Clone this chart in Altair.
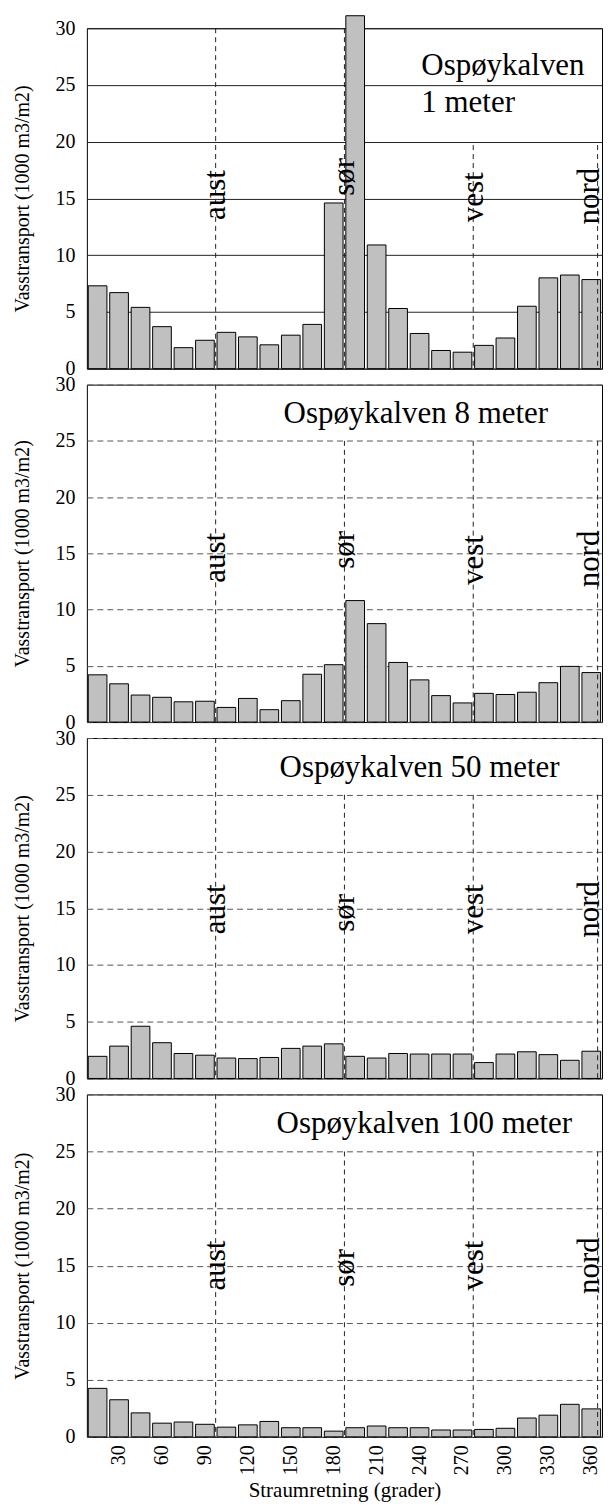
import altair as alt
import pandas as pd

FONT = "Liberation Serif"

# direction bins (upper limit of each 15-degree sector)
bins = ["15", "30", "45", "60", "75", "90", "105", "120", "135", "150", "165", "180",
        "195", "210", "225", "240", "255", "270", "285", "300", "315", "330", "345", "360"]

# water transport (1000 m3/m2) per sector, by depth
v_1m = [7.3, 6.7, 5.4, 3.7, 1.85, 2.5, 3.2, 2.8, 2.1, 2.95, 3.9, 14.6,
        31.1, 10.9, 5.3, 3.1, 1.6, 1.45, 2.05, 2.7, 5.5, 8.0, 8.25, 7.85]
v_8m = [4.2, 3.4, 2.4, 2.2, 1.8, 1.85, 1.3, 2.1, 1.1, 1.9, 4.25, 5.1,
        10.8, 8.75, 5.3, 3.75, 2.35, 1.7, 2.55, 2.45, 2.65, 3.5, 4.95, 4.4]
v_50m = [1.95, 2.85, 4.6, 3.15, 2.2, 2.05, 1.8, 1.75, 1.85, 2.65, 2.85, 3.05,
         1.95, 1.8, 2.2, 2.15, 2.15, 2.15, 1.4, 2.15, 2.35, 2.1, 1.6, 2.4]
v_100m = [4.25, 3.25, 2.1, 1.2, 1.3, 1.1, 0.85, 1.05, 1.35, 0.8, 0.8, 0.5,
          0.8, 0.95, 0.8, 0.8, 0.6, 0.6, 0.65, 0.75, 1.65, 1.9, 2.85, 2.45]

# compass directions marked with dashed lines
dir_names = ["aust", "sør", "vest", "nord"]
dir_at = ["90", "180", "270", "360"]

line_tops = [[30, 30, 19.7, 19.7], [30, 25, 25, 25], [30, 25, 25, 25], [30, 25, 25, 25]]
label_ys = [[15.3, 16.9, 15.1, 15.2], [14.6, 15.3, 14.4, 14.5],
            [14.9, 14.6, 14.9, 14.9], [15.0, 14.8, 15.0, 15.0]]

titles = [["Ospøykalven", "1 meter"], ["Ospøykalven 8 meter"],
          ["Ospøykalven 50 meter"], ["Ospøykalven 100 meter"]]
title_ys = [[25.9, 22.6], [26.6], [26.6], [26.6]]
title_x = [335, 197, 193, 190]

values = [v_1m, v_8m, v_50m, v_100m]
heights = [341, 338, 341, 343]
y_ticks = [0, 5, 10, 15, 20, 25, 30]


def panel(i):
    last = i == 3
    df = pd.DataFrame({"dir": bins, "v": values[i]})
    xscale = alt.Scale(domain=bins, paddingInner=0.13, paddingOuter=0.065)
    yscale = alt.Scale(domain=[0, 30], nice=False)

    if last:
        xaxis = alt.Axis(
            title="Straumretning (grader)", labelAngle=270,
            labelExpr="toNumber(datum.value) % 30 == 0 ? datum.label : ''",
            ticks=False, labelPadding=8, labelFontSize=20, titleFontSize=21,
            titlePadding=5, grid=False, domain=False, labelOverlap=False,
            titleFontWeight="normal",
        )
    else:
        xaxis = None

    yaxis_kw = dict(
        title="Vasstransport (1000 m3/m2)", values=y_ticks, ticks=False,
        labelPadding=12, labelFontSize=20, titleFontSize=20, titlePadding=22,
        grid=True, domain=False, titleFontWeight="normal", gridWidth=1,
    )
    if i == 0:
        yaxis = alt.Axis(gridColor="#222", **yaxis_kw)
    else:
        yaxis = alt.Axis(gridColor="#555", gridDash=[6, 4], **yaxis_kw)

    bars = alt.Chart(df).mark_bar(fill="#c0c0c0", stroke="black", strokeWidth=1).encode(
        x=alt.X("dir:O", scale=xscale, axis=xaxis),
        y=alt.Y("v:Q", scale=yscale, axis=yaxis),
    )

    rdf = pd.DataFrame({"dir": dir_at, "name": dir_names,
                        "top": line_tops[i], "ly": label_ys[i]})
    base = alt.Chart(rdf)
    inner = "datum.name != 'nord'"
    edge = "datum.name == 'nord'"

    def rule_layer(flt, off):
        return base.transform_filter(flt).mark_rule(
            stroke="#222", strokeWidth=1, strokeDash=[5, 4], xOffset=off
        ).encode(
            x=alt.X("dir:O", scale=xscale, bandPosition=1, axis=xaxis),
            y=alt.Y("top:Q", scale=yscale, axis=yaxis),
            y2=alt.datum(0),
        )

    def label_layer(flt, off, clip):
        return base.transform_filter(flt).mark_text(
            angle=270, font=FONT, fontSize=31, align="center",
            baseline="alphabetic", xOffset=off, color="black", clip=clip
        ).encode(
            x=alt.X("dir:O", scale=xscale, bandPosition=1, axis=xaxis),
            y=alt.Y("ly:Q", scale=yscale, axis=yaxis),
            text="name:N",
        )

    tdf = pd.DataFrame({"t": titles[i], "ty": title_ys[i]})
    ttl = alt.Chart(tdf).mark_text(
        align="left", baseline="alphabetic", font=FONT, fontSize=31, color="black"
    ).encode(
        x=alt.value(title_x[i]),
        y=alt.Y("ty:Q", scale=yscale, axis=yaxis),
        text="t:N",
    )

    return alt.layer(
        bars,
        rule_layer(inner, 1.4), rule_layer(edge, -3),
        label_layer(inner, 11, False), label_layer(edge, -2, True),
        ttl,
    ).properties(width=516, height=heights[i])


chart = alt.vconcat(*[panel(i) for i in range(4)], spacing=16, bounds="flush").properties(
    padding={"left": 4, "top": 5, "right": 0, "bottom": 0}
).configure_view(
    stroke="black", strokeWidth=1
).configure_axis(
    labelFont=FONT, titleFont=FONT, labelColor="black", titleColor="black"
)

chart.save("out.html", embed_options={"renderer": "svg", "actions": False})
